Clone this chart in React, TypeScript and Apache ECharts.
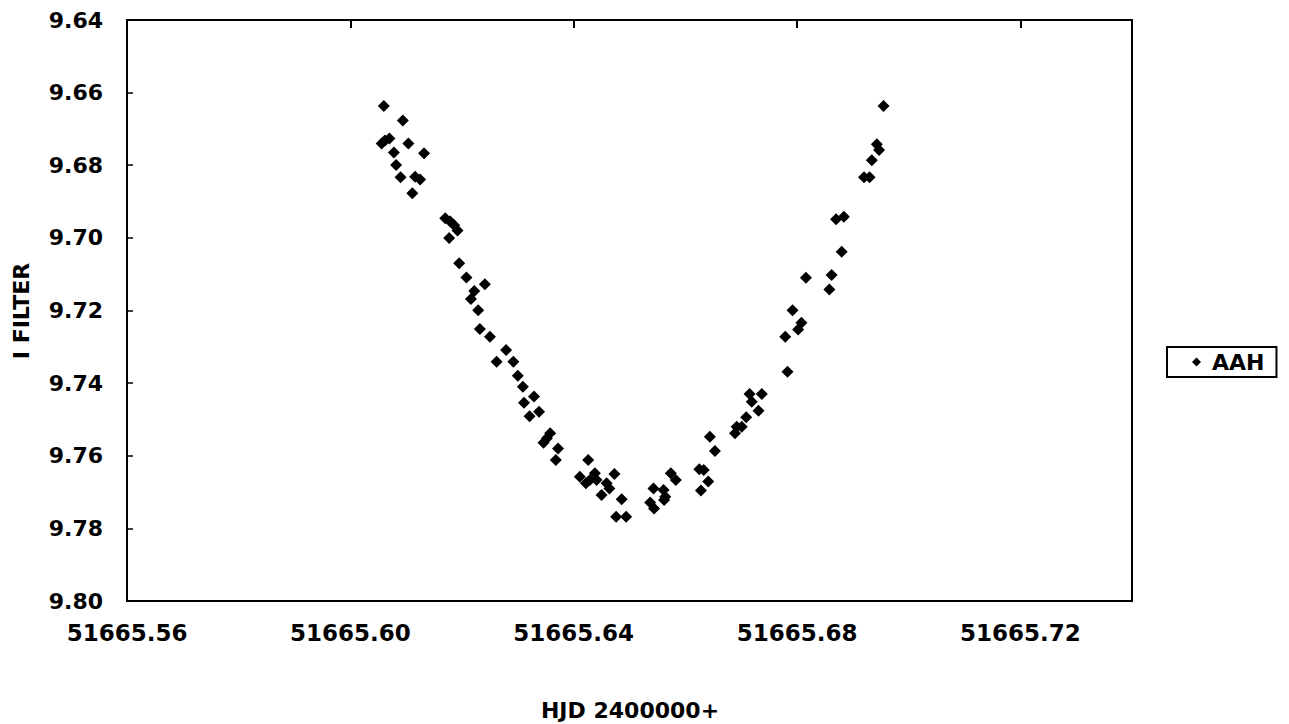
import React, { useEffect, useRef } from "react";
import * as echarts from "echarts";

// HJD 2400000+ (x) and I-filter magnitude (y)
const hjd: number[] = [
  51665.6060, 51665.6094, 51665.6056, 51665.6062, 51665.6070, 51665.6104, 51665.6132, 51665.6078,
  51665.6082, 51665.6090, 51665.6116, 51665.6125, 51665.6111, 51665.6170, 51665.6179, 51665.6186,
  51665.6192, 51665.6177, 51665.6195, 51665.6208, 51665.6241, 51665.6222, 51665.6216, 51665.6229,
  51665.6232, 51665.6250, 51665.6279, 51665.6262, 51665.6292, 51665.6300, 51665.6309, 51665.6329,
  51665.6311, 51665.6338, 51665.6321, 51665.6358, 51665.6352, 51665.6346, 51665.6372, 51665.6368,
  51665.6426, 51665.6411, 51665.6422, 51665.6438, 51665.6441, 51665.6429, 51665.6473, 51665.6459,
  51665.6464, 51665.6450, 51665.6486, 51665.6476, 51665.6494, 51665.6543, 51665.6561, 51665.6564,
  51665.6537, 51665.6544, 51665.6562, 51665.6574, 51665.6583, 51665.6625, 51665.6633, 51665.6641,
  51665.6628, 51665.6644, 51665.6653, 51665.6689, 51665.6692, 51665.6701, 51665.6709, 51665.6731,
  51665.6719, 51665.6715, 51665.6737, 51665.6783, 51665.6779, 51665.6802, 51665.6808, 51665.6792,
  51665.6858, 51665.6862, 51665.6816, 51665.6880, 51665.6884, 51665.6870, 51665.6920, 51665.6930,
  51665.6934, 51665.6943, 51665.6947, 51665.6955,
];
const iMag: number[] = [
  9.6637, 9.6677, 9.6740, 9.6732, 9.6726, 9.6740, 9.6767, 9.6765,
  9.6799, 9.6833, 9.6832, 9.6839, 9.6877, 9.6946, 9.6955, 9.6965,
  9.6980, 9.7000, 9.7070, 9.7109, 9.7128, 9.7146, 9.7168, 9.7199,
  9.7251, 9.7272, 9.7309, 9.7341, 9.7341, 9.7380, 9.7410, 9.7437,
  9.7454, 9.7479, 9.7491, 9.7538, 9.7552, 9.7564, 9.7580, 9.7612,
  9.7612, 9.7658, 9.7676, 9.7648, 9.7667, 9.7667, 9.7650, 9.7676,
  9.7690, 9.7708, 9.7720, 9.7768, 9.7768, 9.7690, 9.7694, 9.7713,
  9.7729, 9.7745, 9.7722, 9.7648, 9.7667, 9.7637, 9.7639, 9.7671,
  9.7696, 9.7548, 9.7587, 9.7538, 9.7520, 9.7520, 9.7494, 9.7476,
  9.7451, 9.7430, 9.7430, 9.7369, 9.7272, 9.7252, 9.7234, 9.7199,
  9.7142, 9.7102, 9.7110, 9.7038, 9.6942, 9.6949, 9.6833, 9.6833,
  9.6786, 9.6742, 9.6758, 9.6637,
];

const seriesName = "AAH";
const xTitle = "HJD 2400000+";
const yTitle = "I FILTER";
const xMin = 51665.56;
const xMax = 51665.74;
const xStep = 0.04;
const yMin = 9.64;
const yMax = 9.8;
const yStep = 0.02;

const FONT = '"DejaVu Sans", sans-serif';

export default function App() {
  const ref = useRef<HTMLDivElement>(null);

  useEffect(() => {
    if (!ref.current) return;
    const chart = echarts.init(ref.current, undefined, { renderer: "svg" });
    const points = hjd.map((x, i) => [x, iMag[i]]);
    const lineStyle = { color: "#000", width: 2 };
    chart.setOption({
      animation: false,
      backgroundColor: "#fff",
      grid: {
        left: 127,
        top: 20,
        width: 1005,
        height: 581,
        show: true,
        borderColor: "#000",
        borderWidth: 2,
        containLabel: false,
      },
      legend: {
        data: [{ name: seriesName, icon: "diamond" }],
        left: 1167,
        top: 347,
        orient: "vertical",
        padding: [4, 12, 4, 25],
        itemWidth: 9,
        itemHeight: 9,
        borderColor: "#000",
        borderWidth: 2,
        borderRadius: 0,
        textStyle: {
          color: "#000",
          fontFamily: FONT,
          fontWeight: "bold",
          fontSize: 22,
          padding: [0, 0, 0, 6],
        },
      },
      xAxis: [
        {
          type: "value",
          position: "bottom",
          min: xMin,
          max: xMax,
          interval: xStep,
          axisLine: { show: true, onZero: false, lineStyle },
          axisTick: { show: false },
          splitLine: { show: false },
          axisLabel: {
            show: true,
            margin: 20,
            color: "#000",
            fontFamily: FONT,
            fontWeight: "bold",
            fontSize: 23,
            showMaxLabel: false,
            formatter: (v: number) => (v > xMax - 0.005 ? "" : v.toFixed(2)),
          },
        },
        {
          type: "value",
          position: "top",
          min: xMin,
          max: xMax,
          interval: xStep,
          axisLine: { show: true, onZero: false, lineStyle },
          axisTick: { show: true, inside: true, length: 8, lineStyle: { color: "#000", width: 2 } },
          splitLine: { show: false },
          axisLabel: { show: false },
        },
      ],
      yAxis: {
        type: "value",
        inverse: true,
        min: yMin,
        max: yMax,
        interval: yStep,
        axisLine: { show: true, onZero: false, lineStyle },
        axisTick: { show: true, inside: true, length: 6, lineStyle: { color: "#000", width: 1.5 } },
        splitLine: { show: false },
        axisLabel: {
          margin: 24,
          color: "#000",
          fontFamily: FONT,
          fontWeight: "bold",
          fontSize: 22,
          formatter: (v: number) => v.toFixed(2),
        },
      },
      graphic: [
        {
          type: "text",
          x: 630,
          y: 710,
          style: {
            text: xTitle,
            fill: "#000",
            font: `bold 22px ${FONT}`,
            textAlign: "center",
            textVerticalAlign: "middle",
          },
        },
        {
          type: "text",
          x: 21,
          y: 311,
          rotation: Math.PI / 2,
          style: {
            text: yTitle,
            fill: "#000",
            font: `bold 22px ${FONT}`,
            textAlign: "center",
            textVerticalAlign: "middle",
          },
        },
      ],
      series: [
        {
          name: seriesName,
          type: "scatter",
          xAxisIndex: 0,
          symbol: "diamond",
          symbolSize: 12,
          itemStyle: { color: "#000", opacity: 1 },
          data: points,
        },
      ],
    });
    return () => chart.dispose();
  }, []);

  return (
    <div
      ref={ref}
      style={{ position: "fixed", left: 0, top: 0, width: 1289, height: 724, background: "#fff" }}
    />
  );
}
